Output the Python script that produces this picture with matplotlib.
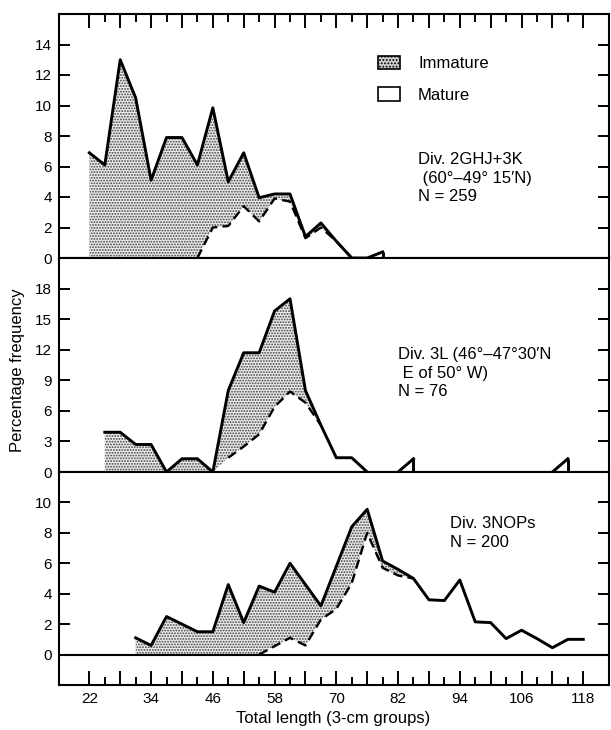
import numpy as np
import matplotlib.pyplot as plt
from matplotlib.patches import Patch

plt.rcParams['font.family'] = ['Liberation Sans', 'DejaVu Sans']
plt.rcParams['hatch.linewidth'] = 0.9

nan = np.nan

# 3-cm length groups
length = np.arange(22, 119, 3)

# Div. 2GHJ+3K
total_1 = [6.9, 6.1, 13.0, 10.5, 5.1, 7.9, 7.9, 6.1, 9.85, 5.0, 6.9, 3.95, 4.2, 4.2,
           1.4, 2.3, 1.1, 0, 0, 0.4] + [nan] * 13
mature_1 = [nan] * 7 + [0, 2.0, 2.1, 3.4, 2.4, 3.9, 3.7, 1.3, 2.0, 1.1, 0] + [nan] * 15
drops_1 = [79]

# Div. 3L
total_2 = [nan, 3.9, 3.9, 2.7, 2.7, 0, 1.3, 1.3, 0, 8.0, 11.7, 11.7, 15.8, 17.0, 8.0,
           4.6, 1.4, 1.4, 0, nan, 0, 1.3] + [nan] * 8 + [0, 1.3, nan]
mature_2 = [nan] * 9 + [1.4, 2.5, 3.7, 6.4, 7.9, 6.8, 4.6] + [nan] * 17
drops_2 = [85, 115]

# Div. 3NOPs
total_3 = [nan] * 3 + [1.1, 0.6, 2.5, 2.0, 1.5, 1.5, 4.6, 2.1, 4.5, 4.1, 6.0, 4.6, 3.2,
                       5.8, 8.4, 9.55, 6.15, 5.6, 5.0, 3.6, 3.55, 4.9, 2.15, 2.1, 1.05,
                       1.6, 1.05, 0.45, 1.0, 1.0]
mature_3 = [nan] * 11 + [0, 0.55, 1.1, 0.6, 2.3, 3.0, 4.7, 8.0, 5.7, 5.2, 5.0] + [nan] * 11
drops_3 = []

ylims = [(0, 16), (0, 21), (-2, 12)]
yticks = [np.arange(0, 15, 2), np.arange(0, 19, 3), np.arange(0, 11, 2)]

notes = ["Div. 2GHJ+3K\n (60°–49° 15′N)\nN = 259",
         "Div. 3L (46°–47°30′N\n E of 50° W)\nN = 76",
         "Div. 3NOPs\nN = 200"]
note_pos = [(418, 152), (398, 347), (450, 516)]  # pixel, top-left of block


fig = plt.figure(figsize=(6.11, 7.30), dpi=100)
gs = fig.add_gridspec(3, 1, left=59/611, right=609/611, top=1-14/730, bottom=1-685/730,
                      hspace=0, height_ratios=[244, 214, 213])
axes = [fig.add_subplot(gs[i]) for i in range(3)]

panels = zip(axes, [total_1, total_2, total_3], [mature_1, mature_2, mature_3],
             [drops_1, drops_2, drops_3])
for i, (ax, tot, mat, drops) in enumerate(panels):
    tot = np.array(tot)
    mat = np.array(mat)
    last = np.where(~np.isnan(mat))[0][-1]
    base = np.nan_to_num(mat)
    inside = (~np.isnan(tot)) & (np.arange(len(length)) <= last)
    ax.fill_between(length, tot, base, where=inside, facecolor='#ececec',
                    edgecolor='0.25', hatch='......', linewidth=0)
    ax.plot(length, tot, color='k', lw=2.1)
    ax.plot(length, mat, color='k', lw=1.7, ls=(0, (4, 2.2)))
    for d in drops:
        ax.vlines(d, 0, tot[length == d], color='k', lw=2.1)

    ax.set_xlim(16.1, 123)
    ax.set_ylim(*ylims[i])
    ax.set_yticks(yticks[i])
    ax.tick_params(axis='y', direction='in', length=8, width=1.4, right=True,
                   labelsize=11, pad=5)
    for s in ax.spines.values():
        s.set_linewidth(1.5)

    ax.set_xticks(length[::2])
    ax.set_xticks(length[1::2], minor=True)
    ax.set_xticklabels([str(v) if (v - 22) % 12 == 0 else '' for v in length[::2]])
    ax.tick_params(axis='x', which='major', direction='in', length=10, width=1.4,
                   labelsize=11, pad=5)
    ax.tick_params(axis='x', which='minor', direction='in', length=6, width=1.4)
    if i == 0:
        ax.tick_params(axis='x', which='both', top=True, bottom=False,
                       labelbottom=False)
    elif i == 1:
        ax.tick_params(axis='x', which='both', top=False, bottom=False,
                       labelbottom=False)
    else:
        ax.axhline(0, color='k', lw=1.5)

    nx, ny = note_pos[i]
    fig.text(nx/611, 1 - ny/730, notes[i], fontsize=12, va='top', ha='left',
             linespacing=1.3)

handles = [Patch(facecolor='#d0d0d0', edgecolor='k', hatch='.....', lw=1.2),
           Patch(facecolor='white', edgecolor='k', lw=1.2)]
fig.legend(handles, ['Immature', 'Mature'], loc='upper left',
           bbox_to_anchor=(378/611, 1 - 56/730), frameon=False, fontsize=12,
           borderpad=0, borderaxespad=0, handlelength=1.3, handleheight=0.85,
           handletextpad=1.1, labelspacing=0.95)

fig.text(18/611, 1 - 370/730, 'Percentage frequency', rotation=90, fontsize=12,
         ha='center', va='center')
fig.text(333/611, 1 - 718/730, 'Total length (3-cm groups)', fontsize=12,
         ha='center', va='center')

fig.savefig('out.png', dpi=100)
